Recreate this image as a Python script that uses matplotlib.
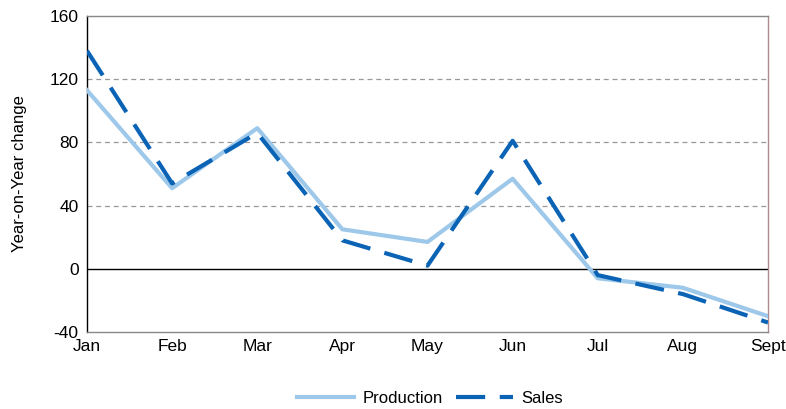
import matplotlib.pyplot as plt
import numpy as np

plt.rcParams['font.family'] = ['Liberation Sans', 'DejaVu Sans']
plt.rcParams['axes.unicode_minus'] = False

months = ["Jan", "Feb", "Mar", "Apr", "May", "Jun", "Jul", "Aug", "Sept"]
production = [113, 51, 89, 25, 17, 57, -6, -12, -30]
sales = [138, 54, 86, 18, 2, 81, -4, -16, -34]

fig = plt.figure(figsize=(7.86, 4.09), dpi=100)
ax = fig.add_axes([87/786, 77/409, 681/786, 316/409])

x = np.arange(len(months))
ax.plot(x, production, color="#9dc8ea", lw=3, label="Production", zorder=3)
ax.plot(x, sales, color="#0b63b5", lw=3, dashes=(7, 3.5), label="Sales", zorder=4)

ax.set_xlim(0, len(months) - 1)
ax.set_ylim(-40, 160)
ax.set_yticks(np.arange(-40, 161, 40))
ax.set_xticks(x)
ax.set_xticklabels(months)
for v in [40, 80, 120]:
    ax.axhline(v, color="#999999", lw=0.9, ls=(0, (4, 3)), zorder=1)
ax.axhline(0, color="black", lw=1, zorder=2)

ax.tick_params(length=0, labelsize=12.5, pad=6)
ax.tick_params(axis="x", pad=5)
ax.spines["left"].set_color("black")
ax.spines["bottom"].set_color("#888888")
ax.spines["top"].set_color("#888888")
ax.spines["right"].set_color("#b08a90")
for s in ax.spines.values():
    s.set_linewidth(1)
ax.set_ylabel("Year-on-Year change", fontsize=12, labelpad=16)

fig.legend(loc="lower center", bbox_to_anchor=(0.547, -0.03), ncol=2, frameon=False,
           fontsize=12, handlelength=3.4, handletextpad=0.5, columnspacing=0.8)

fig.savefig("out.png", dpi=100)
